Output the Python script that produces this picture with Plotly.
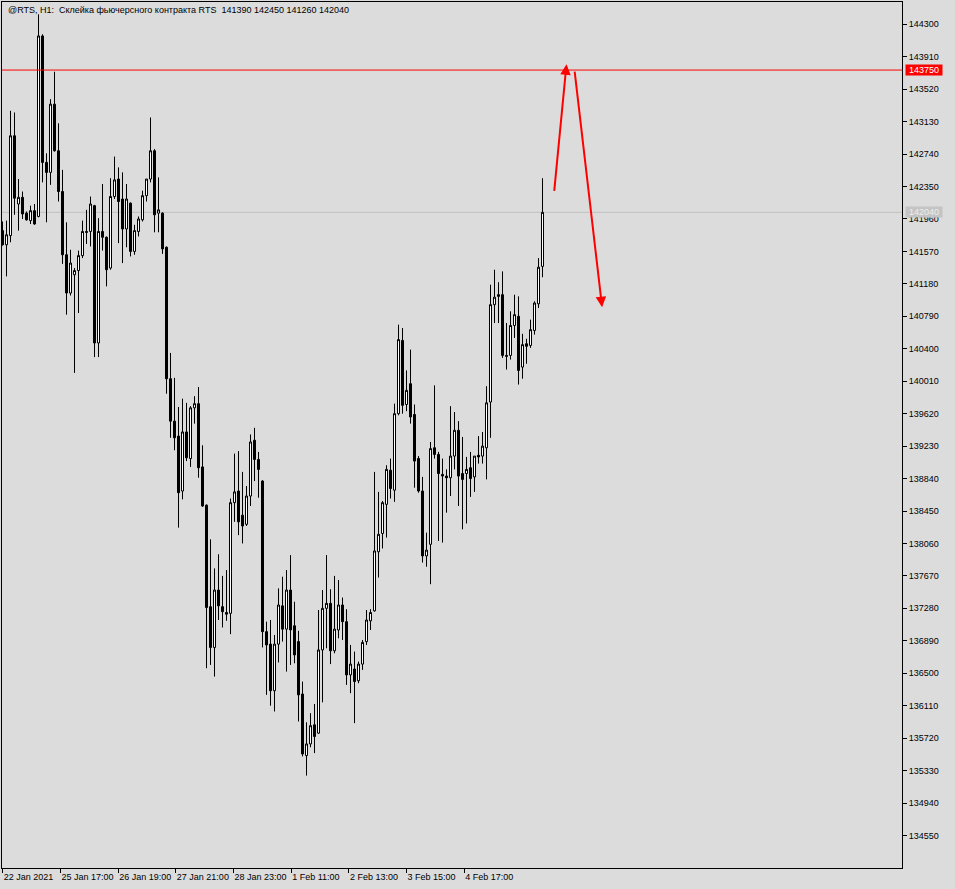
import plotly.graph_objects as go

# ---------------- data ----------------
opens = [141820,141650,141760,142960,142140,142220,142030,141940,142060,141990,
         144160,142640,142520,143340,142780,142290,141530,141070,141290,141340,
         141520,141810,141810,142120,140470,141810,141740,141370,142230,142440,
         142200,141840,142150,141570,141810,141950,142240,142440,142780,142030,
         142030,141620,140040,139530,139350,138690,139400,139080,139690,139740,
         138980,138520,137300,136810,137500,137300,137230,137220,138550,138690,
         138400,138290,138630,139300,139070,138810,137000,136850,136290,136850,
         137310,137030,137500,137070,136880,136250,135510,135650,135880,135780,
         136780,137280,137340,136770,137020,137320,137120,136480,136550,136410,
         136610,136880,137130,137250,137960,138180,138530,138940,138700,139620,
         140500,139730,139980,139610,139080,138690,137910,138050,139210,139130,
         138890,138870,138850,139110,139420,138900,138900,138970,138860,139120,
         139110,139210,139760,140930,141050,141050,140320,140320,140680,140790,
         140180,140460,140440,140620,140940,141390]
highs = [141930,141940,143260,143240,142440,142290,142050,142120,142140,144420,
         144180,142750,143400,143730,143110,142550,141920,141590,141370,141580,
         141940,142070,142230,142130,141970,142380,141750,142450,142710,142580,
         142520,142380,142160,141890,141990,142300,142440,143180,142800,142460,
         142040,141630,140350,140050,139700,139800,139750,139710,139830,139940,
         139240,138530,138110,137760,137930,137670,137740,138600,139140,139170,
         138920,138750,139370,139450,139160,138820,137120,137140,136960,137520,
         137660,137740,137920,137360,137010,136400,135910,136020,136130,137260,
         137500,137920,137510,137670,137620,137410,137270,136840,136760,136640,
         136900,137260,137270,138920,138680,138570,139000,139080,139740,140690,
         140650,140140,140390,139730,139110,138860,138190,139280,139960,139160,
         139080,138950,139710,139640,139530,139340,139100,139160,139110,139350,
         139400,139950,141170,141350,141200,141330,140710,140850,141050,141030,
         140580,140520,140750,140970,141490,142450]
lows = [141640,141270,141680,142010,141820,141960,141940,141900,141890,141980,
        142400,141920,142370,142770,142170,141420,140810,141040,140110,140830,
        141490,141660,141630,140300,140300,141580,141150,141350,142200,141670,
        141430,141620,141510,141530,141750,141930,142170,142400,141800,141800,
        141540,139860,139330,139180,138250,138590,139050,138980,139500,138850,
        138500,136560,136600,136460,137140,137050,137130,136970,138320,138160,
        138060,138270,138510,138810,138610,136810,136240,136110,136040,136630,
        136880,136520,136600,136620,135920,135500,135270,135610,135540,135770,
        136150,136800,136610,136740,136920,136900,136360,136260,135900,136380,
        136540,136840,137020,137240,137650,138000,138130,138600,138560,139600,
        139620,139650,139500,138730,138670,137830,137780,137570,139080,138090,
        138070,138430,138630,138950,138510,138230,138300,138620,138680,139020,
        139020,138830,139330,140710,140710,140290,140150,140270,140530,139970,
        140040,140220,140410,140570,140890,141260]
closes = [141650,141770,142960,142210,142220,142020,141950,142060,141900,144160,
          142640,142520,143340,142780,142290,141530,141070,141430,141340,141520,
          141810,141800,142140,140470,141810,141740,141350,142230,142430,142170,
          141840,142200,141570,141820,141960,142240,142440,142780,142010,142070,
          141600,140040,139530,139330,138670,139400,139090,139690,139740,138970,
          138510,137290,136810,137500,137310,137240,137210,138550,138680,138320,
          138270,138630,139280,139070,138950,137000,136840,136290,136850,137320,
          137030,137500,137020,136720,136240,135530,135650,135870,135740,136780,
          137280,137340,136770,137030,137320,137120,136480,136610,136400,136610,
          136870,137140,137230,137970,138170,138550,138950,138720,139620,140510,
          139720,139900,139580,139050,138690,137910,137980,139200,139130,138900,
          138870,138850,139110,139420,138870,138830,138950,138840,139110,139100,
          139230,139750,140930,141020,141030,140320,140310,140680,140810,140140,
          140450,140430,140630,140950,141380,142040]
bars = list(range(len(opens)))

x_tick_labels = ["22 Jan 2021", "25 Jan 17:00", "26 Jan 19:00", "27 Jan 21:00",
                 "28 Jan 23:00", "1 Feb 11:00", "2 Feb 13:00", "3 Feb 15:00",
                 "4 Feb 17:00"]
y_tick_values = [134550, 134940, 135330, 135720, 136110, 136500, 136890, 137280,
                 137670, 138060, 138450, 138840, 139230, 139620, 140010, 140400,
                 140790, 141180, 141570, 141960, 142350, 142740, 143130, 143520,
                 143910, 144300]

level_price = 143750
bid_price = 142040
title_text = "@RTS, H1:\u00a0 Склейка фьючерсного контракта RTS\u00a0 141390 142450 141260 142040"

# hand-drawn forecast arrows (bar index, price)
arrow_x = [137.9, 141.0, 143.0, 149.9]
arrow_y = [142280, 143820, 143750, 140900]

# ---------------- figure ----------------
BG = "#DCDCDC"
FONT = "Liberation Sans"

fig = go.Figure()
fig.add_trace(go.Candlestick(
    x=bars, open=opens, high=highs, low=lows, close=closes,
    increasing=dict(line=dict(color="black", width=1), fillcolor="white"),
    decreasing=dict(line=dict(color="black", width=1), fillcolor="black"),
    whiskerwidth=0, hoverinfo="skip", showlegend=False,
))

tick_start = 0.075
tick_step = 14.42
x_tick_vals = [tick_start + k * tick_step for k in range(len(x_tick_labels))]

fig.update_layout(
    width=955, height=889,
    margin=dict(l=2, r=53, t=2, b=21, autoexpand=False),
    paper_bgcolor=BG, plot_bgcolor=BG,
    font=dict(family=FONT, size=9, color="black"),
    boxgap=0.5, boxgroupgap=0,
    showlegend=False,
    xaxis=dict(
        range=[-0.125, 224.875], rangeslider=dict(visible=False),
        showgrid=False, zeroline=False, automargin=False,
        showline=True, linecolor="black", linewidth=1, mirror=True,
        ticks="outside", ticklen=4, tickcolor="black", tickwidth=1,
        tickmode="array", tickvals=x_tick_vals, ticktext=x_tick_labels,
        ticklabelposition="outside right", tickangle=0,
        tickfont=dict(family=FONT, size=9, color="black"),
    ),
    yaxis=dict(
        side="right", range=[134159, 144568],
        showgrid=False, zeroline=False, automargin=False,
        showline=True, linecolor="black", linewidth=1, mirror=True,
        ticks="outside", ticklen=4, tickcolor="black", tickwidth=1,
        tickmode="array", tickvals=y_tick_values,
        ticktext=[str(v) for v in y_tick_values],
        tickfont=dict(family=FONT, size=9, color="black"),
    ),
)

# price lines
fig.add_shape(type="line", xref="paper", x0=0, x1=1, yref="y",
              y0=bid_price, y1=bid_price, line=dict(color="#C0C0C0", width=1),
              layer="below")
fig.add_shape(type="line", xref="paper", x0=0, x1=1, yref="y",
              y0=level_price, y1=level_price, line=dict(color="#FF0000", width=1),
              layer="above")

# price tags on the axis
fig.add_annotation(xref="paper", x=1, xanchor="left", xshift=3,
                   yref="y", y=level_price, yanchor="middle",
                   text=str(level_price), showarrow=False,
                   bgcolor="#FF0000", font=dict(color="white", size=9, family=FONT),
                   width=36, height=10, borderpad=0)
fig.add_annotation(xref="paper", x=1, xanchor="left", xshift=3,
                   yref="y", y=bid_price, yanchor="middle",
                   text=str(bid_price), showarrow=False,
                   bgcolor="#C4C4C4", font=dict(color="#EEEEEE", size=9, family=FONT),
                   width=36, height=10, borderpad=0)

# title
fig.add_annotation(xref="paper", yref="paper", x=0, y=1, xanchor="left", yanchor="top",
                   xshift=4, yshift=-1, text=title_text, showarrow=False,
                   font=dict(family=FONT, size=9, color="black"))

# forecast arrows
for k in (0, 2):
    fig.add_annotation(x=arrow_x[k + 1], y=arrow_y[k + 1], ax=arrow_x[k], ay=arrow_y[k],
                       xref="x", yref="y", axref="x", ayref="y", text="",
                       showarrow=True, arrowhead=2, arrowsize=1.05, arrowwidth=2,
                       arrowcolor="#FF0000", standoff=0, startstandoff=0)

fig.write_html("out.html", config={"displayModeBar": False},
               post_script="document.body.style.margin='0';document.body.style.overflow='hidden';")
